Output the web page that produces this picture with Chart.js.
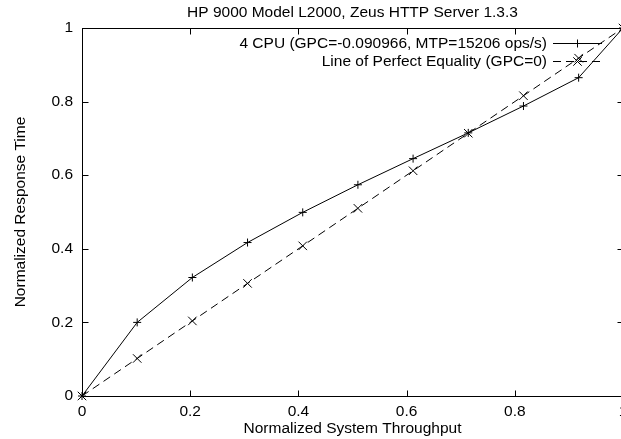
<!DOCTYPE html>
<html>
<head>
<meta charset="utf-8">
<script src="https://cdn.jsdelivr.net/npm/chart.js@4/dist/chart.umd.min.js"></script>
<style>
  html, body { margin: 0; padding: 0; background: #fff; overflow: hidden; }
  canvas { display: block; }
</style>
</head>
<body>
<canvas id="c" width="640" height="439"></canvas>
<script>
// Texts
const chartTitle = 'HP 9000 Model L2000, Zeus HTTP Server 1.3.3';
const xAxisTitle = 'Normalized System Throughput';
const yAxisTitle = 'Normalized Response Time';
const seriesLabels = [
  '4 CPU (GPC=-0.090966, MTP=15206 ops/s)',
  'Line of Perfect Equality (GPC=0)'
];

// Measured points
const throughput        = [0, 0.102, 0.204, 0.306, 0.408, 0.510, 0.612, 0.714, 0.816, 0.918, 1.0];
const responseTime4cpu  = [0, 0.200, 0.322, 0.417, 0.499, 0.574, 0.645, 0.715, 0.788, 0.865, 1.0];
const responseTimeEqual = [0, 0.102, 0.204, 0.306, 0.408, 0.510, 0.612, 0.714, 0.816, 0.918, 1.0];

// Axis ticks
const tickStep = 0.2;
const axisMin = 0;
const axisMax = 1;

const FONT = '"Liberation Sans", Arial, Helvetica, sans-serif';
const FONT_SIZE = 15.5;

function toPoints(xs, ys) {
  return xs.map((x, i) => ({ x: x, y: ys[i] }));
}

// gnuplot-style tick text: 0, 0.2, ..., 1
function tickText(v) {
  return String(Math.round(v * 10) / 10);
}

// Frame with inward ticks on all four sides, the title over the plot,
// and a key in the upper right corner (text first, then line sample).
const framePlugin = {
  id: 'frame',
  afterDraw(chart) {
    const ctx = chart.ctx;
    const a = chart.chartArea;
    const xs = chart.scales.x;
    const ys = chart.scales.y;
    const L = Math.round(a.left) + 0.5, R = Math.round(a.right) + 0.5;
    const T = Math.round(a.top) + 0.5, B = Math.round(a.bottom) + 0.5;
    const tl = 6;

    ctx.save();
    ctx.strokeStyle = '#000';
    ctx.lineWidth = 1;
    ctx.setLineDash([]);
    ctx.strokeRect(L, T, R - L, B - T);

    ctx.beginPath();
    xs.ticks.forEach(t => {
      const px = Math.round(xs.getPixelForValue(t.value)) + 0.5;
      ctx.moveTo(px, B); ctx.lineTo(px, B - tl);
      ctx.moveTo(px, T); ctx.lineTo(px, T + tl);
    });
    ys.ticks.forEach(t => {
      const py = Math.round(ys.getPixelForValue(t.value)) + 0.5;
      ctx.moveTo(L, py); ctx.lineTo(L + tl, py);
      ctx.moveTo(R, py); ctx.lineTo(R - tl, py);
    });
    ctx.stroke();

    // title
    ctx.fillStyle = '#000';
    ctx.font = FONT_SIZE + 'px ' + FONT;
    ctx.textAlign = 'center';
    ctx.textBaseline = 'middle';
    ctx.fillText(chartTitle, (a.left + a.right) / 2, 13);

    // key
    const textRight = 547;
    const sampleL = 553, sampleR = 602;
    chart.data.datasets.forEach((ds, i) => {
      const cy = Math.round(a.top + 15 + i * 18) + 0.5;
      ctx.fillStyle = '#000';
      ctx.textAlign = 'right';
      ctx.textBaseline = 'middle';
      ctx.fillText(ds.label, textRight, cy);
      ctx.strokeStyle = ds.borderColor;
      ctx.lineWidth = ds.borderWidth;
      ctx.setLineDash(ds.borderDash || []);
      ctx.beginPath();
      ctx.moveTo(sampleL, cy);
      ctx.lineTo(sampleR, cy);
      ctx.stroke();
      ctx.setLineDash([]);
      Chart.helpers.drawPoint(ctx, {
        pointStyle: ds.pointStyle,
        radius: ds.pointRadius,
        rotation: 0,
        borderWidth: ds.pointBorderWidth
      }, (sampleL + sampleR) / 2, cy);
    });
    ctx.restore();
  }
};

new Chart(document.getElementById('c'), {
  type: 'scatter',
  data: {
    datasets: [
      {
        label: seriesLabels[0],
        data: toPoints(throughput, responseTime4cpu),
        showLine: true,
        borderColor: '#000',
        backgroundColor: '#000',
        borderWidth: 1,
        pointStyle: 'cross',
        pointRadius: 4,
        pointBorderWidth: 1,
        pointBorderColor: '#000',
        tension: 0,
        clip: false
      },
      {
        label: seriesLabels[1],
        data: toPoints(throughput, responseTimeEqual),
        showLine: true,
        borderColor: '#000',
        backgroundColor: '#000',
        borderWidth: 1,
        borderDash: [8, 5],
        pointStyle: 'crossRot',
        pointRadius: 6,
        pointBorderWidth: 1,
        pointBorderColor: '#000',
        tension: 0,
        clip: false
      }
    ]
  },
  options: {
    responsive: false,
    animation: false,
    devicePixelRatio: 1,
    layout: { padding: { top: 28, right: 17, left: 0, bottom: 0 } },
    plugins: {
      legend: { display: false },
      title: { display: false },
      tooltip: { enabled: false }
    },
    events: [],
    scales: {
      x: {
        type: 'linear',
        min: axisMin,
        max: axisMax,
        grid: { display: false, drawTicks: false },
        border: { display: false },
        ticks: {
          stepSize: tickStep,
          padding: 6,
          color: '#000',
          font: { family: FONT, size: FONT_SIZE },
          maxRotation: 0,
          callback: tickText
        },
        title: {
          display: true,
          text: xAxisTitle,
          color: '#000',
          font: { family: FONT, size: FONT_SIZE },
          padding: { top: 0, bottom: 1 }
        },
        afterFit(s) { s.height = 43; }
      },
      y: {
        type: 'linear',
        min: axisMin,
        max: axisMax,
        grid: { display: false, drawTicks: false },
        border: { display: false },
        ticks: {
          stepSize: tickStep,
          padding: 9,
          color: '#000',
          font: { family: FONT, size: FONT_SIZE },
          callback: tickText
        },
        title: {
          display: true,
          text: yAxisTitle,
          color: '#000',
          font: { family: FONT, size: FONT_SIZE },
          padding: { top: 11, bottom: 0 }
        },
        afterFit(s) { s.width = 82; }
      }
    }
  },
  plugins: [framePlugin]
});
</script>
</body>
</html>
